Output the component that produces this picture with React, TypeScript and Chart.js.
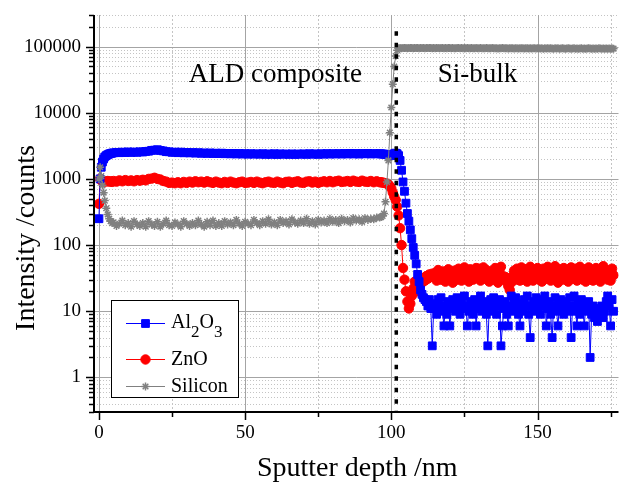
import React, { useEffect, useRef } from 'react';
import { Chart, registerables } from 'chart.js';
import { drawPoint } from 'chart.js/helpers';

Chart.register(...registerables);

// ---------- data ----------
const depth = [
  0, 0.4, 0.8, 1.2, 1.6, 2, 2.5, 3, 3.5, 4, 4.5,
  5, 6, 7, 8, 9, 10, 11, 12, 13, 14,
  15, 16, 17, 18, 19, 20, 21, 22, 23, 24,
  25, 26, 27, 28, 29, 30, 31, 32, 33, 34,
  35, 36, 37, 38, 39, 40, 41, 42, 43, 44,
  45, 46, 47, 48, 49, 50, 51, 52, 53, 54,
  55, 56, 57, 58, 59, 60, 61, 62, 63, 64,
  65, 66, 67, 68, 69, 70, 71, 72, 73, 74,
  75, 76, 77, 78, 79, 80, 81, 82, 83, 84,
  85, 86, 87, 88, 89, 90, 91, 92, 93, 94,
  95, 96,
  96.5, 97, 97.5, 98, 98.5, 99, 99.5, 100, 100.5, 101,
  101.5, 102, 102.5, 103, 103.5, 104, 104.5, 105, 105.5, 106,
  106.5, 107, 107.5, 108, 108.5, 109, 109.5, 110, 110.5, 111,
  111.5, 112, 112.5, 113, 113.5, 114,
  114.5, 115, 115.5, 116, 116.5, 117, 117.5, 118, 118.5, 119,
  119.5, 120, 120.5, 121, 121.5, 122, 122.5, 123, 123.5, 124,
  124.5, 125, 125.5, 126, 126.5, 127, 127.5, 128, 128.5, 129,
  129.5, 130, 130.5, 131, 131.5, 132, 132.5, 133, 133.5, 134,
  134.5, 135, 135.5, 136, 136.5, 137, 137.5, 138, 138.5, 139,
  139.5, 140, 140.5, 141, 141.5, 142, 142.5, 143, 143.5, 144,
  144.5, 145, 145.5, 146, 146.5, 147, 147.5, 148, 148.5, 149,
  149.5, 150, 150.5, 151, 151.5, 152, 152.5, 153, 153.5, 154,
  154.5, 155, 155.5, 156, 156.5, 157, 157.5, 158, 158.5, 159,
  159.5, 160, 160.5, 161, 161.5, 162, 162.5, 163, 163.5, 164,
  164.5, 165, 165.5, 166, 166.5, 167, 167.5, 168, 168.5, 169,
  169.5, 170, 170.5, 171, 171.5, 172, 172.5, 173, 173.5, 174,
  174.5, 175, 175.5, 176,
];

const al2o3 = [
  250, 1000, 1500, 1800, 2000, 2150, 2250, 2320, 2380, 2420, 2450,
  2480, 2520, 2490, 2540, 2500, 2560, 2510, 2550, 2520, 2570,
  2550, 2600, 2620, 2700, 2720, 2760, 2690, 2650, 2580, 2570,
  2520, 2540, 2490, 2540, 2480, 2510, 2470, 2500, 2450, 2490,
  2440, 2470, 2430, 2470, 2420, 2450, 2410, 2450, 2400, 2430,
  2390, 2430, 2380, 2420, 2370, 2410, 2360, 2400, 2370, 2390,
  2360, 2400, 2350, 2390, 2350, 2400, 2340, 2390, 2360, 2380,
  2350, 2390, 2340, 2380, 2360, 2390, 2350, 2400, 2360, 2390,
  2350, 2400, 2360, 2410, 2370, 2400, 2380, 2410, 2370, 2420,
  2380, 2430, 2380, 2420, 2370, 2420, 2390, 2430, 2380, 2410,
  2390, 2400,
  2390, 2380, 2370, 2350, 2330, 2300, 2280, 2250, 2300, 2400,
  2450, 2400, 2250, 1900, 1350, 900, 650, 430, 300, 230,
  170, 125, 92, 70, 52, 36, 28, 21, 18, 16,
  15, 14, 12, 15, 11, 3,
  11, 13, 9, 15, 12, 16, 10, 6, 12, 9,
  14, 6, 11, 15, 12, 10, 16, 13, 9, 14,
  11, 17, 12, 6, 10, 14, 12, 9, 15, 6,
  11, 13, 17, 10, 14, 11, 9, 3, 12, 15,
  10, 16, 13, 9, 12, 15, 3, 6, 11, 14,
  9, 6, 12, 17, 10, 13, 16, 11, 9, 6,
  13, 10, 15, 12, 17, 9, 4, 12, 14, 10,
  16, 11, 13, 9, 15, 12, 17, 6, 11, 14,
  9, 4, 12, 16, 10, 6, 13, 15, 11, 9,
  14, 12, 10, 16, 4, 12, 17, 10, 6, 13,
  9, 15, 11, 6, 12, 10, 14, 2, 9, 12,
  8, 10, 7, 11, 9, 12, 8, 10, 14, 17,
  12, 6, 15, 10,
];

const zno = [
  420, 1000, 950, 930, 920, 910, 920, 930, 910, 920, 900,
  930, 910, 950, 920, 960, 930, 950, 920, 960, 940,
  970, 950, 1000, 1010, 1040, 1000, 980, 930, 910, 870,
  880, 860, 890, 860, 900, 870, 910, 880, 920, 890,
  910, 880, 920, 890, 870, 910, 880, 860, 900, 870,
  910, 880, 860, 890, 910, 870, 880, 900, 870, 910,
  880, 860, 890, 910, 880, 870, 910, 880, 860, 900,
  910, 870, 900, 920, 880, 870, 910, 920, 880, 910,
  870, 900, 920, 890, 930, 890, 920, 940, 900, 910,
  930, 900, 940, 910, 900, 940, 910, 900, 930, 890,
  920, 890,
  890, 880, 870, 860, 850, 820, 780, 720, 620, 540,
  480, 380, 280, 180, 100, 45, 30, 20, 14, 11,
  13, 17, 22, 28, 24, 20, 26, 30, 27, 32,
  29, 34, 31, 36, 33, 37,
  33, 38, 29, 42, 35, 30, 40, 34, 28, 37,
  43, 31, 38, 27, 41, 35, 30, 44, 36, 29,
  39, 46, 32, 40, 28, 43, 36, 30, 41, 45,
  33, 44, 29, 38, 46, 31, 42, 36, 28, 40,
  35, 30, 45, 33, 27, 41, 47, 34, 30, 33,
  28, 24, 21, 27, 34, 41, 30, 44, 35, 29,
  46, 36, 31, 43, 28, 38, 47, 33, 29, 42,
  35, 45, 30, 39, 28, 44, 36, 31, 47, 38,
  29, 42, 34, 48, 32, 27, 43, 37, 30, 45,
  33, 41, 28, 38, 46, 31, 36, 44, 29, 40,
  47, 34, 30, 43, 28, 39, 46, 33, 41, 29,
  37, 45, 31, 40, 28, 36, 48, 33, 42, 30,
  38, 29, 44, 35,
];

const silicon = [
  1000, 1500, 1100, 800, 620, 470, 360, 290, 250, 230, 215,
  220, 195, 210, 235, 200, 215, 190, 230, 205, 195,
  215, 190, 230, 205, 195, 225, 190, 210, 235, 200,
  195, 220, 205, 190, 230, 210, 195, 215, 200, 235,
  205, 190, 225, 200, 235, 195, 215, 195, 230, 205,
  220, 200, 240, 210, 195, 225, 210, 200, 240, 215,
  200, 230, 210, 245, 205, 220, 200, 240, 215, 230,
  205, 245, 220, 210, 235, 215, 250, 210, 230, 205,
  240, 220, 235, 215, 250, 225, 240, 215, 250, 230,
  240, 220, 255, 235, 245, 225, 255, 240, 250, 245,
  260, 260,
  265, 275, 300, 450, 900, 1900, 5000, 12000, 27000, 50000,
  72000, 88000, 94000, 95000, 94500, 95000, 95500, 95000, 94500, 95000,
  95500, 95000, 94500, 95000, 95500, 95000, 94500, 95000, 95500, 95000,
  94500, 95000, 95000, 95500, 95000, 94500,
  95000, 94500, 95500, 95000, 94000, 95000, 95500, 94500, 95000, 94000,
  95000, 95500, 94500, 95000, 94000, 94500, 95000, 95500, 94500, 95000,
  94000, 95000, 94500, 95500, 94500, 94000, 95000, 94500, 94000, 95000,
  94500, 94000, 95000, 94500, 94000, 94500, 95000, 94000, 94500, 94000,
  95000, 94500, 94000, 94500, 93500, 94500, 94000, 95000, 94000, 94500,
  94000, 93500, 94500, 94000, 94500, 93500, 94000, 94500, 93500, 94000,
  94500, 94000, 93500, 94000, 94500, 93500, 94000, 93500, 94500, 94000,
  93500, 94000, 94500, 93500, 94000, 93000, 94000, 93500, 94000, 93500,
  94000, 93500, 93000, 94000, 93500, 94000, 93000, 93500, 94000, 93500,
  93000, 93500, 94000, 93500, 93000, 93500, 94000, 93000, 93500, 93000,
  93500, 94000, 93000, 93500, 93000, 93500, 94000, 93500, 93000, 93500,
  93000, 93500, 93000, 94000, 93500, 93000, 93500, 93000, 93500, 93000,
  93500, 93000, 93500, 93000,
];

const xTickValues = [0, 50, 100, 150];
const xMinorValues = [25, 75, 125, 175];
const yTickValues = [1, 10, 100, 1000, 10000, 100000];
const interfaceDepth = 101.7;
const regionLabels = ['ALD composite', 'Si-bulk'];
const xTitle = 'Sputter depth /nm';
const yTitle = 'Intensity /counts';

// ---------- styling ----------
const SERIF = "'Liberation Serif', 'Times New Roman', Times, serif";
const X_MIN = -1.69;
const X_MAX = 177.7;
const Y_MIN = 0.3;
const Y_MAX = 300000;

const series = [
  { name: 'Silicon', values: silicon, color: '#808080', style: 'star', radius: 4, bw: 1.5, order: 1 },
  { name: 'Al2O3', values: al2o3, color: '#0000ff', style: 'rect', radius: 5.5, bw: 1, order: 2 },
  { name: 'ZnO', values: zno, color: '#ff0000', style: 'circle', radius: 4.7, bw: 1, order: 3 },
];

function yMinorValues(): number[] {
  const out: number[] = [];
  for (let d = 0.1; d <= 100000 * 1.0001; d *= 10) {
    for (let k = 2; k <= 9; k++) {
      const v = d * k;
      if (v >= Y_MIN * 0.999 && v <= Y_MAX * 1.001) out.push(v);
    }
  }
  return out;
}

const decorPlugin = {
  id: 'decor',
  beforeDatasetsDraw(chart: any) {
    const { ctx, chartArea: a } = chart;
    const xs = chart.scales.x;
    const ys = chart.scales.y;
    ctx.save();
    ctx.lineWidth = 1;
    ctx.strokeStyle = '#c4c4c4';
    ctx.setLineDash([1, 2]);
    ctx.beginPath();
    for (const v of yMinorValues()) {
      const p = Math.round(ys.getPixelForValue(v)) + 0.5;
      ctx.moveTo(a.left, p);
      ctx.lineTo(a.right, p);
    }
    ctx.stroke();
    ctx.setLineDash([2, 2]);
    ctx.beginPath();
    for (const v of xMinorValues) {
      const p = Math.round(xs.getPixelForValue(v)) + 0.5;
      ctx.moveTo(p, a.top);
      ctx.lineTo(p, a.bottom);
    }
    ctx.stroke();
    ctx.setLineDash([]);
    ctx.strokeStyle = '#a4a4a4';
    ctx.beginPath();
    for (const v of yTickValues) {
      const p = Math.round(ys.getPixelForValue(v)) + 0.5;
      ctx.moveTo(a.left, p);
      ctx.lineTo(a.right, p);
    }
    for (const v of xTickValues) {
      const p = Math.round(xs.getPixelForValue(v)) + 0.5;
      ctx.moveTo(p, a.top);
      ctx.lineTo(p, a.bottom);
    }
    ctx.stroke();
    ctx.restore();
  },
  afterDatasetsDraw(chart: any) {
    const { ctx, chartArea: a } = chart;
    const xs = chart.scales.x;
    const ys = chart.scales.y;
    ctx.save();
    const ix = xs.getPixelForValue(interfaceDepth);
    ctx.strokeStyle = '#000';
    ctx.lineWidth = 3.5;
    ctx.setLineDash([4.5, 7]);
    ctx.beginPath();
    ctx.moveTo(ix, ys.getPixelForValue(170000));
    ctx.lineTo(ix, a.bottom);
    ctx.stroke();
    ctx.setLineDash([]);

    ctx.lineWidth = 2;
    ctx.beginPath();
    ctx.moveTo(a.left, a.top);
    ctx.lineTo(a.left, a.bottom);
    ctx.lineTo(a.right, a.bottom);
    ctx.stroke();

    ctx.lineWidth = 1.5;
    ctx.beginPath();
    for (const v of yTickValues) {
      const p = Math.round(ys.getPixelForValue(v)) + 0.5;
      ctx.moveTo(a.left, p);
      ctx.lineTo(a.left - 8, p);
    }
    for (const v of yMinorValues()) {
      const p = Math.round(ys.getPixelForValue(v)) + 0.5;
      ctx.moveTo(a.left, p);
      ctx.lineTo(a.left - 5, p);
    }
    for (const v of xTickValues) {
      const p = Math.round(xs.getPixelForValue(v)) + 0.5;
      ctx.moveTo(p, a.bottom);
      ctx.lineTo(p, a.bottom + 8);
    }
    for (const v of xMinorValues) {
      const p = Math.round(xs.getPixelForValue(v)) + 0.5;
      ctx.moveTo(p, a.bottom);
      ctx.lineTo(p, a.bottom + 5);
    }
    ctx.stroke();
    ctx.restore();
  },
  afterDraw(chart: any) {
    const { ctx, chartArea: a } = chart;
    const xs = chart.scales.x;
    const ys = chart.scales.y;
    ctx.save();
    ctx.fillStyle = '#000';
    ctx.textBaseline = 'alphabetic';

    ctx.font = `27px ${SERIF}`;
    ctx.textAlign = 'left';
    ctx.fillText(regionLabels[0], xs.getPixelForValue(30.7), ys.getPixelForValue(29500));
    ctx.fillText(regionLabels[1], xs.getPixelForValue(115.9), ys.getPixelForValue(29000));

    ctx.font = `28px ${SERIF}`;
    ctx.textAlign = 'center';
    ctx.fillText(xTitle, (a.left + a.right) / 2 + 1, 476);
    ctx.save();
    ctx.translate(34, 238);
    ctx.rotate(-Math.PI / 2);
    ctx.fillText(yTitle, 0, 0);
    ctx.restore();

    const bx = 111, by = 300, bw = 127, bh = 97;
    ctx.fillStyle = '#fff';
    ctx.fillRect(bx, by, bw, bh);
    ctx.strokeStyle = '#000';
    ctx.lineWidth = 1;
    ctx.strokeRect(bx + 0.5, by + 0.5, bw, bh);
    const rows = [
      { s: series[1], y: 323 },
      { s: series[2], y: 359 },
      { s: series[0], y: 386 },
    ];
    for (const r of rows) {
      ctx.strokeStyle = r.s.color;
      ctx.lineWidth = 1;
      ctx.beginPath();
      ctx.moveTo(126, r.y + 0.5);
      ctx.lineTo(165, r.y + 0.5);
      ctx.stroke();
      ctx.fillStyle = r.s.color;
      ctx.strokeStyle = r.s.color;
      ctx.lineWidth = r.s.bw;
      drawPoint(ctx, { pointStyle: r.s.style, radius: r.s.radius, rotation: 0, borderWidth: r.s.bw }, 145.5, r.y + 0.5);
    }
    ctx.fillStyle = '#000';
    ctx.textAlign = 'left';
    let tx = 171;
    const base1 = 328;
    const parts: [string, boolean][] = [['Al', false], ['2', true], ['O', false], ['3', true]];
    for (const [t, sub] of parts) {
      ctx.font = sub ? `17px ${SERIF}` : `20px ${SERIF}`;
      ctx.fillText(t, tx, sub ? base1 + 9 : base1);
      tx += ctx.measureText(t).width;
    }
    ctx.font = `20px ${SERIF}`;
    ctx.fillText('ZnO', 171, 365);
    ctx.fillText('Silicon', 171, 392);
    ctx.restore();
  },
};

export default function App() {
  const ref = useRef<HTMLCanvasElement>(null);
  useEffect(() => {
    if (!ref.current) return;
    const chart = new Chart(ref.current, {
      type: 'line',
      data: {
        datasets: series.map((s) => ({
          label: s.name,
          data: depth.map((x, i) => ({ x, y: s.values[i] })),
          borderColor: s.color,
          backgroundColor: s.color,
          pointBackgroundColor: s.color,
          pointBorderColor: s.color,
          pointStyle: s.style as any,
          pointRadius: s.radius,
          pointBorderWidth: s.bw,
          borderWidth: 1,
          tension: 0,
          order: s.order,
        })),
      },
      options: {
        responsive: false,
        animation: false,
        events: [],
        layout: { padding: { top: 15, left: 0, right: 0, bottom: 0 } },
        plugins: { legend: { display: false }, tooltip: { enabled: false }, title: { display: false } },
        scales: {
          x: {
            type: 'linear',
            min: X_MIN,
            max: X_MAX,
            grid: { display: false, drawTicks: false },
            border: { display: false },
            ticks: {
              font: { family: SERIF, size: 19 },
              color: '#000',
              padding: 10,
              maxRotation: 0,
              autoSkip: false,
              callback: (v: any) => String(v),
            },
            afterBuildTicks: (s: any) => {
              s.ticks = xTickValues.map((v) => ({ value: v }));
            },
            afterFit: (s: any) => {
              s.height = 72;
              s.paddingLeft = 0;
              s.paddingRight = 0;
            },
          },
          y: {
            type: 'logarithmic',
            min: Y_MIN,
            max: Y_MAX,
            grid: { display: false, drawTicks: false },
            border: { display: false },
            ticks: {
              font: { family: SERIF, size: 19 },
              color: '#000',
              padding: 13,
              autoSkip: false,
              callback: (v: any) => String(v),
            },
            afterBuildTicks: (s: any) => {
              s.ticks = yTickValues.map((v) => ({ value: v }));
            },
            afterFit: (s: any) => {
              s.width = 94;
              s.paddingTop = 0;
              s.paddingBottom = 0;
            },
          },
        },
      },
      plugins: [decorPlugin],
    } as any);
    return () => chart.destroy();
  }, []);
  return (
    <div style={{ position: 'absolute', left: 0, top: 0, width: 625, height: 484, background: '#fff' }}>
      <canvas ref={ref} width={625} height={484} style={{ display: 'block' }} />
    </div>
  );
}
